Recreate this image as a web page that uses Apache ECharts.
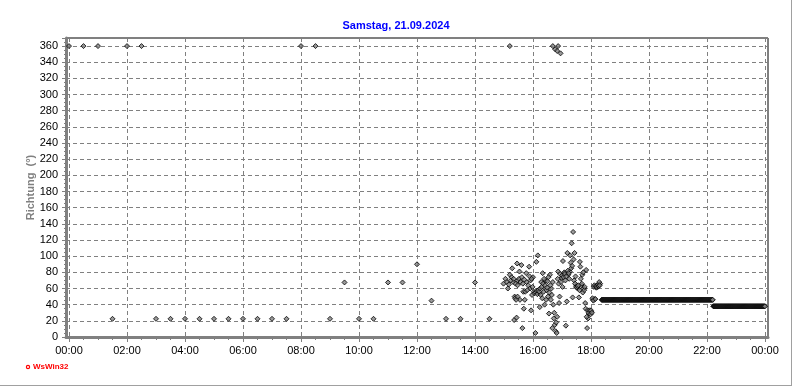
<!DOCTYPE html>
<html><head><meta charset="utf-8">
<script src="https://cdn.jsdelivr.net/npm/echarts@6/dist/echarts.min.js"></script>
<style>html,body{margin:0;padding:0;background:#fff}#c{width:792px;height:387px}</style>
</head><body><div id="c"></div>
<script>
const chartTitle = 'Samstag, 21.09.2024';
const yAxisName = 'Richtung  (°)';
const brandText = 'WsWin32';

// half-hourly readings (night / morning)
const halfHourTimes = ['00:00','00:30','01:00','01:30','02:00','02:30','03:00','03:30','04:00','04:30',
  '05:00','05:30','06:00','06:30','07:00','07:30','08:00','08:30','09:00','09:30',
  '10:00','10:30','11:00','11:30','12:00','12:30','13:00','13:30','14:00','14:30'];
const halfHourValues = [360,360,360,22.5,360,360,22.5,22.5,22.5,22.5,
  22.5,22.5,22.5,22.5,22.5,22.5,360,360,22.5,67.5,
  22.5,22.5,67.5,67.5,90,45,22.5,22.5,67.5,22.5];

// afternoon cluster (minutes of day, degrees)
const clusterTimes = [899,908,912,912,917,919,921,922,926,927,929,932,933,936,938,940,941,943,946,947,
  952,953,954,956,959,960,962,965,967,970,972,974,977,980,982,984,986,988,991,993,
  995,997,998,1000,1001,1001,1003,1005,1006,1007,1009,1010,1010,1012,1012,1014,1015,1017,1019,1021,
  1022,1024,1028,1030,1031,1033,1036,1037,1039,1040,1042,1043,1046,1048,1050,1053,1055,1057,1058,1060,
  1062,1065,1069,1070,1072,1074,1076,1078,1081,1084,1088,1091,1094,1099];
const clusterValues = [66,60,77,360,85,68,21,50,24,91,70,81,46,89,11,56,35,46,79,68,
  87,75,60,33,62,74,56,5,93,101,54,37,68,79,56,40,70,58,50,29,
  77,46,60,11,68,360,23,15,356,7,5,25,354,81,360,42,50,351,73,62,
  94,79,14,44,104,77,81,101,85,116,49,130,104,75,64,60,49,93,87,64,
  77,60,35,83,11,23,29,31,31,46,47,61,62,66];

// further readings inside the afternoon cluster
const denseTimes = [903,906,910,914,916,920,924,928,931,934,937,939,942,
  923,925,928,944,948,950,955,957,958,
  963,966,968,969,971,973,975,976,
  978,979,981,983,985,987,989,990,992,994,996,999,
  1002,1004,1008,1011,1013,1016,1018,
  1020,1023,1025,1026,1027,1029,1032,1034,1035,
  1038,1041,1044,1045,1047,1049,1051,1052,1054,1056,
  1059,1061,1063,1064,1066,1067,1068,1071,1073,1075,1077,1079,
  1080,1082,1083,1085,1086,1087,1089,1090,1092,1093,1095,1096,1097,1098];
const denseValues = [72,68,65,70,74,72,66,64,72,68,74,66,71,
  48,46,50,56,58,64,70,72,52,
  54,55,57,53,58,56,60,52,
  62,48,66,72,64,46,61,69,74,55,64,52,
  40,30,18,72,66,78,68,
  76,74,80,78,70,75,82,79,72,
  92,88,96,70,66,62,61,63,64,58,
  72,66,55,80,58,62,42,25,33,30,33,28,
  33,30,48,45,62,64,47,63,62,64,65,63,68,64];

// steady evening readings (one per minute)
const eveningTimes = [1102,1103,1104,1105,1106,1107,1108,1109,1110,1111,
  1112,1113,1114,1115,1116,1117,1118,1119,1120,1121,
  1122,1123,1124,1125,1126,1127,1128,1129,1130,1131,
  1132,1133,1134,1135,1136,1137,1138,1139,1140,1141,
  1142,1143,1144,1145,1146,1147,1148,1149,1150,1151,
  1152,1153,1154,1155,1156,1157,1158,1159,1160,1161,
  1162,1163,1164,1165,1166,1167,1168,1169,1170,1171,
  1172,1173,1174,1175,1176,1177,1178,1179,1180,1181,
  1182,1183,1184,1185,1186,1187,1188,1189,1190,1191,
  1192,1193,1194,1195,1196,1197,1198,1199,1200,1201,
  1202,1203,1204,1205,1206,1207,1208,1209,1210,1211,
  1212,1213,1214,1215,1216,1217,1218,1219,1220,1221,
  1222,1223,1224,1225,1226,1227,1228,1229,1230,1231,
  1232,1233,1234,1235,1236,1237,1238,1239,1240,1241,
  1242,1243,1244,1245,1246,1247,1248,1249,1250,1251,
  1252,1253,1254,1255,1256,1257,1258,1259,1260,1261,
  1262,1263,1264,1265,1266,1267,1268,1269,1270,1271,
  1272,1273,1274,1275,1276,1277,1278,1279,1280,1281,
  1282,1283,1284,1285,1286,1287,1288,1289,1290,1291,
  1292,1293,1294,1295,1296,1297,1298,1299,1300,1301,
  1302,1303,1304,1305,1306,1307,1308,1309,1310,1311,
  1312,1313,1314,1315,1316,1317,1318,1319,1320,1321,
  1322,1323,1324,1325,1326,1327,1328,1329,1330,1331,
  1332];
const eveningValues = [46,46,46,46,46,46,46,46,46,46,
  46,46,46,46,46,46,46,46,46,46,
  46,46,46,46,46,46,46,46,46,46,
  46,46,46,46,46,46,46,46,46,46,
  46,46,46,46,46,46,46,46,46,46,
  46,46,46,46,46,46,46,46,46,46,
  46,46,46,46,46,46,46,46,46,46,
  46,46,46,46,46,46,46,46,46,46,
  46,46,46,46,46,46,46,46,46,46,
  46,46,46,46,46,46,46,46,46,46,
  46,46,46,46,46,46,46,46,46,46,
  46,46,46,46,46,46,46,46,46,46,
  46,46,46,46,46,46,46,46,46,46,
  46,46,46,46,46,46,46,46,46,46,
  46,46,46,46,46,46,46,46,46,46,
  46,46,46,46,46,46,46,46,46,46,
  46,46,46,46,46,46,46,46,46,46,
  46,46,46,46,46,46,46,46,46,46,
  46,46,46,46,46,46,46,46,46,46,
  46,46,46,46,46,46,46,46,46,46,
  46,46,46,46,46,46,46,46,46,46,
  46,46,46,46,46,46,46,46,46,46,
  46,46,46,46,46,46,46,46,46,46,
  46];

// steady late-night readings (one per minute)
const nightTimes = [1333,1334,1335,1336,1337,1338,1339,1340,1341,1342,
  1343,1344,1345,1346,1347,1348,1349,1350,1351,1352,
  1353,1354,1355,1356,1357,1358,1359,1360,1361,1362,
  1363,1364,1365,1366,1367,1368,1369,1370,1371,1372,
  1373,1374,1375,1376,1377,1378,1379,1380,1381,1382,
  1383,1384,1385,1386,1387,1388,1389,1390,1391,1392,
  1393,1394,1395,1396,1397,1398,1399,1400,1401,1402,
  1403,1404,1405,1406,1407,1408,1409,1410,1411,1412,
  1413,1414,1415,1416,1417,1418,1419,1420,1421,1422,
  1423,1424,1425,1426,1427,1428,1429,1430,1431,1432,
  1433,1434,1435,1436,1437,1438,1439,1440];
const nightValues = [38,38,38,38,38,38,38,38,38,38,
  38,38,38,38,38,38,38,38,38,38,
  38,38,38,38,38,38,38,38,38,38,
  38,38,38,38,38,38,38,38,38,38,
  38,38,38,38,38,38,38,38,38,38,
  38,38,38,38,38,38,38,38,38,38,
  38,38,38,38,38,38,38,38,38,38,
  38,38,38,38,38,38,38,38,38,38,
  38,38,38,38,38,38,38,38,38,38,
  38,38,38,38,38,38,38,38,38,38,
  38,38,38,38,38,38,38,38];

function toMin(s){ const p = s.split(':'); return (+p[0])*60 + (+p[1]); }
function zip(ts, vs){ const n = Math.min(ts.length, vs.length); const out=[]; for(let i=0;i<n;i++) out.push([ts[i], vs[i]]); return out; }
function pad(n){ return (n<10?'0':'')+n; }

const allData = []
  .concat(zip(halfHourTimes.map(toMin), halfHourValues))
  .concat(zip(clusterTimes, clusterValues))
  .concat(zip(denseTimes, denseValues))
  .concat(zip(eveningTimes, eveningValues))
  .concat(zip(nightTimes, nightValues));

const gray = '#808080';
const FONT = '"Liberation Sans", Arial, sans-serif';

const chart = echarts.init(document.getElementById('c'), null, {renderer:'canvas'});
chart.setOption({
  animation: false,
  backgroundColor: '#fff',
  title: {
    text: chartTitle, left: 'center', top: 15,
    textStyle: {color:'#0000ff', fontSize: 11, fontWeight:'bold', fontFamily: FONT}
  },
  grid: [
    {left: 66, right: 24, top: 38, bottom: 50, show: true, borderColor:'#000', borderWidth: 1, backgroundColor:'transparent', containLabel:false},
    {left: 69, right: 27, top: 38, bottom: 50, containLabel:false}
  ],
  xAxis: [
    {gridIndex:0, type:'value', min:0, max:1, axisLine:{show:true, lineStyle:{color:gray, width:3}},
     axisTick:{show:false}, axisLabel:{show:false}, splitLine:{show:false}},
    {gridIndex:1, type:'value', min:0, max:1440, interval:120,
     axisLine:{show:false}, axisTick:{show:true, length:5, lineStyle:{color:gray}},
     minorTick:{show:true, splitNumber:4, length:3, lineStyle:{color:gray}},
     axisLabel:{show:true, margin:8, fontSize:11, color:'#000', fontFamily:FONT,
       formatter: v => { const m = Math.round(v) % 1440; return pad(Math.floor(m/60))+':'+pad(m%60); }},
     splitLine:{show:true, lineStyle:{color:gray, type:[4,3], width:1}}}
  ],
  yAxis: [
    {gridIndex:0, type:'value', min:0, max:370, interval:20,
     name: yAxisName, nameLocation:'middle', nameGap:30, nameRotate:90, nameMoveOverlap:false,
     nameTextStyle:{color:gray, fontSize:11, fontWeight:'bold', fontFamily:FONT},
     axisLine:{show:true, lineStyle:{color:gray, width:3}},
     axisTick:{show:true, length:4, lineStyle:{color:gray}},
     minorTick:{show:true, splitNumber:4, length:2, lineStyle:{color:gray}},
     axisLabel:{show:true, margin:8, fontSize:11, color:'#000', fontFamily:FONT, showMaxLabel:false},
     splitLine:{show:true, lineStyle:{color:gray, type:[4,3], width:1}}},
    {gridIndex:1, type:'value', min:0, max:370, show:false}
  ],
  graphic: [
    {type:'line', shape:{x1:791.5, y1:0, x2:791.5, y2:386}, style:{stroke:'#a0a0a0', lineWidth:1}},
    {type:'line', shape:{x1:0, y1:385.5, x2:792, y2:385.5}, style:{stroke:'#a0a0a0', lineWidth:1}},
    {type:'circle', shape:{cx:28, cy:367, r:1.6}, style:{stroke:'#ff0000', fill:'#fff', lineWidth:1.2}},
    {type:'text', left:33, top:363, style:{text:brandText, fill:'#ff0000', font:'bold 8px ' + FONT}}
  ],
  series: [{
    type:'scatter', xAxisIndex:1, yAxisIndex:1, data: allData,
    symbol:'diamond', symbolSize:5,
    itemStyle:{color:'#808080', borderColor:'#000', borderWidth:1},
    clip:false, z:5
  }]
});
</script>
</body></html>
